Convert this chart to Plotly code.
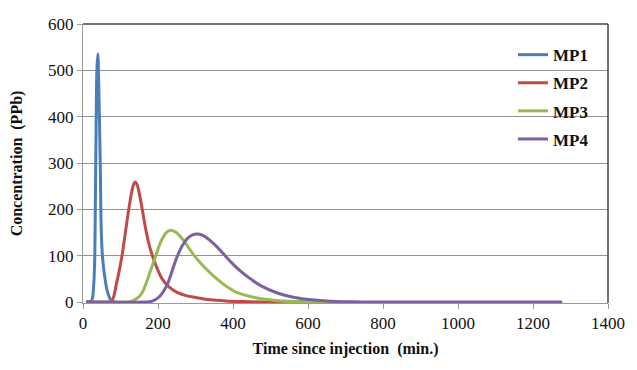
import plotly.graph_objects as go

# Data
mp1_x = [8, 20, 25, 28, 31, 33, 35, 37, 39.6, 42, 44, 46, 48.6, 51, 54, 59, 64, 69, 75, 82, 90]
mp1_y = [0, 1, 8, 30, 85, 220, 380, 500, 535, 470, 390, 298, 156, 110, 80, 49, 26, 13, 3, 0.5, 0]

mp2_x = [8, 70, 75, 82, 88, 96, 104, 113, 122, 130, 135, 139, 144, 150, 158, 166, 175, 185, 198, 211,
         230, 251, 275, 300, 340, 380, 430, 500, 600]
mp2_y = [0, 0, 0.5, 12, 35, 65, 100, 150, 200, 238, 254, 259, 254, 235, 200, 163, 128, 100, 72, 50,
         32, 21, 14, 10, 5, 2.5, 1, 0, 0]

mp3_x = [8, 118, 124, 132, 140, 150, 160, 170, 182, 194, 208, 222, 233.5, 245, 257, 270, 283, 295,
         317, 339, 360, 379, 410, 458, 520, 600, 700]
mp3_y = [0, 0, 0.5, 2.5, 6, 12, 24, 44, 72, 100, 131, 150, 155, 152, 144, 131, 116, 102,
         81, 63, 48, 36, 21, 10, 3, 0.5, 0]

mp4_x = [8, 170, 178, 188, 200, 212, 225, 238, 251, 265, 278, 292, 306, 322, 340, 360, 379, 400, 420,
         447, 475, 520, 564, 610, 660, 720, 800, 1000, 1278]
mp4_y = [0, 0, 0.5, 3, 9, 20, 38, 68, 98, 122, 137, 145, 147, 143, 132, 117, 100, 82, 67,
         50, 35, 19, 10, 5, 2, 0.5, 0, 0, 0]

series = [
    ("MP1", mp1_x, mp1_y, "#4A7EBB"),
    ("MP2", mp2_x, mp2_y, "#BE4B48"),
    ("MP3", mp3_x, mp3_y, "#98B954"),
    ("MP4", mp4_x, mp4_y, "#7D60A0"),
]

x_ticks = [0, 200, 400, 600, 800, 1000, 1200, 1400]
y_ticks = [0, 100, 200, 300, 400, 500, 600]

FONT = "Liberation Serif, Times New Roman, serif"

fig = go.Figure()
for name, xs, ys, col in series:
    fig.add_trace(go.Scatter(
        x=xs, y=ys, name=name, mode="lines",
        line=dict(color=col, width=3, shape="spline", smoothing=1.0),
        legendgroup=name,
    ))

fig.update_layout(
    width=637, height=370,
    margin=dict(l=83, r=24, t=24, b=67),
    paper_bgcolor="white", plot_bgcolor="white",
    font=dict(family=FONT, color="#111111", size=17),
    showlegend=True,
    legend=dict(
        x=0.819, y=0.953, xanchor="left", yanchor="top",
        bgcolor="rgba(0,0,0,0)",
        font=dict(family=FONT, size=17, color="#111111", weight="bold"),
        tracegroupgap=3,
        itemwidth=30,
    ),
    xaxis=dict(
        range=[0, 1400], tickvals=x_ticks, ticktext=[str(v) for v in x_ticks],
        showgrid=False, zeroline=False,
        showline=True, linecolor="#9a9a9a", linewidth=1,
        ticks="outside", ticklen=5, tickcolor="#9a9a9a",
        tickfont=dict(family=FONT, size=17, color="#111111"),
        title=dict(text="Time since injection  (min.)", standoff=10,
                   font=dict(family=FONT, size=16, color="#111111", weight="bold")),
    ),
    yaxis=dict(
        range=[-2, 600], tickvals=y_ticks, ticktext=[str(v) for v in y_ticks],
        showgrid=True, gridcolor="#929292", gridwidth=1, zeroline=False,
        showline=True, linecolor="#9a9a9a", linewidth=1,
        ticks="outside", ticklen=5, tickcolor="#9a9a9a",
        tickfont=dict(family=FONT, size=17, color="#111111"),
        title=dict(text="Concentration  (PPb)", standoff=21,
                   font=dict(family=FONT, size=16, color="#111111", weight="bold")),
    ),
)

# top and right frame edges
fig.add_shape(type="line", xref="paper", yref="paper", x0=0, x1=1, y0=1, y1=1,
              line=dict(color="#444444", width=1.5))
fig.add_shape(type="line", xref="paper", yref="paper", x0=1, x1=1, y0=0, y1=1,
              line=dict(color="#444444", width=1.5))

fig.write_html("out.html")
